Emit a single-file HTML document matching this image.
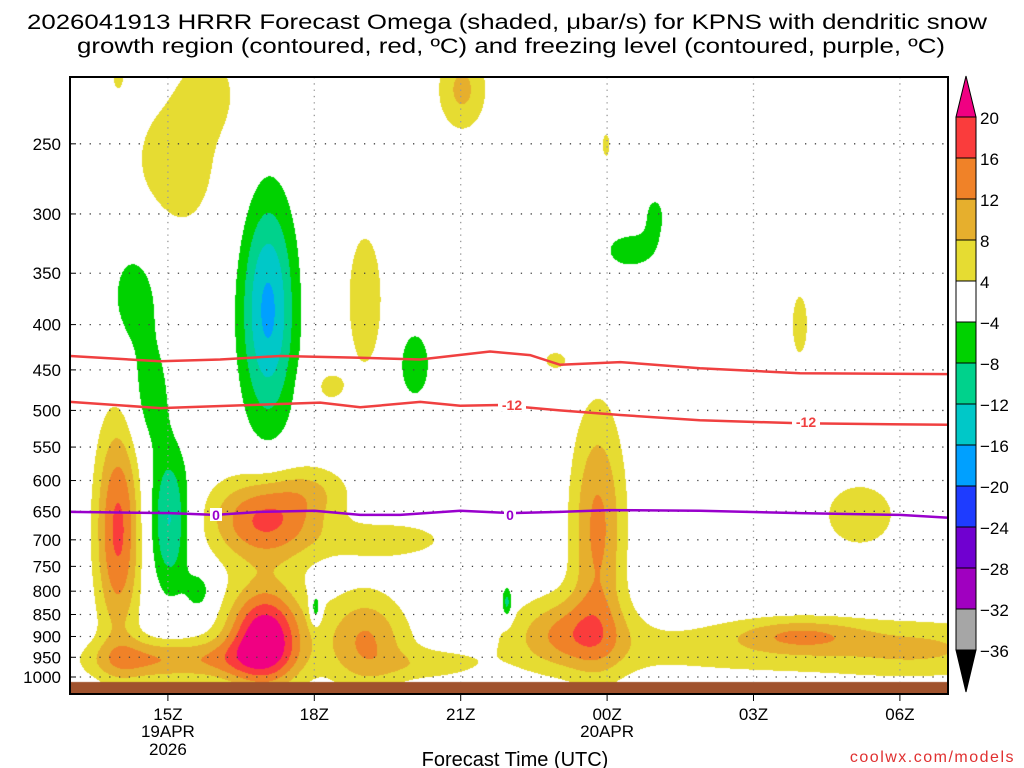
<!DOCTYPE html>
<html><head><meta charset="utf-8"><style>
html,body{margin:0;padding:0;background:#fff;}
#wrap{position:relative;width:1024px;height:768px;overflow:hidden;font-family:"Liberation Sans",sans-serif;}
canvas{position:absolute;left:0;top:0;}
svg{position:absolute;left:0;top:0;}
</style></head><body>
<div id="wrap">
<canvas id="field" width="1024" height="768"></canvas>
<svg id="svg" width="1024" height="768">
<text x="507" y="29" text-anchor="middle" font-size="21" textLength="960" lengthAdjust="spacingAndGlyphs">2026041913 HRRR Forecast Omega (shaded, μbar/s) for KPNS with dendritic snow</text>
<text x="511" y="53" text-anchor="middle" font-size="21" textLength="868" lengthAdjust="spacingAndGlyphs">growth region (contoured, red, ºC) and freezing level (contoured, purple, ºC)</text>
<text x="515" y="766" text-anchor="middle" font-size="20">Forecast Time (UTC)</text>
<text x="1015" y="762" text-anchor="end" font-size="16" fill="#e03030" letter-spacing="1.5">coolwx.com/models</text>
</svg>
</div>
<script>
// ---- data ----
const pressureTicks=[250,300,350,400,450,500,550,600,650,700,750,800,850,900,950,1000];
const timeTickHours=[2,5,8,11,14,17];
const timeTickLabels=["15Z","18Z","21Z","00Z","03Z","06Z"];
const dateLabels=[["19APR","2026"],null,null,["20APR"],null,null];
const levels=[-36,-32,-28,-24,-20,-16,-12,-8,-4,4,8,12,16,20];
const levelColors=["#000000","#a6a6a6","#a000c0","#7000d0","#1e3cff","#00a0ff","#00c8c8","#00d28c","#00d200","#ffffff","#e6dc32","#e6af2d","#f08228","#fa3c3c","#f00082"];
// omega blobs: hour, pressure(hPa), peak, sigmaHours, sigmaLogP
const blobHours=[0.98,1.33,3.99,3.0,3.99,6.55,5.01,6.04,7.37,10.81,10.2,14.95,14.95,2.15,2.87,8.03,10.98,14.95,16.18,9.93,6.04,5.32,0.98,17.5,1.33,1.64,2.04,2.66,4.05,7.06,11.47,11.98,5.03,8.95];
const blobPressure=[682,957,900,957,665,700,615,908,969,680,890,930,897,265,217,217,251,400,656,439,375,470,210,930,370,486,665,800,385,444,330,301,836,825];
const blobPeak=[17,10,24,9,17,6,5,12,5,13,11,6,8,6,4.5,9,5,5.5,6,5,7,5,5,4,-6,-6,-13,-6,-17,-7,-6,-5,-11,-11];
const blobSigH=[0.33,0.8,0.55,0.9,0.8,1.0,0.6,0.6,0.8,0.4,0.8,4.0,0.9,0.8,0.45,0.37,0.1,0.18,0.7,0.25,0.3,0.3,0.1,1.2,0.45,0.3,0.3,0.2,0.4,0.25,0.45,0.2,0.08,0.08];
const blobSigP=[0.20,0.04,0.09,0.04,0.08,0.04,0.05,0.09,0.03,0.22,0.07,0.06,0.03,0.16,0.08,0.08,0.04,0.09,0.08,0.026,0.15,0.04,0.03,0.05,0.13,0.10,0.13,0.04,0.21,0.07,0.04,0.05,0.03,0.03];
// temperature contours
const dgzUpperHours=[0,1.84,3.07,4.3,5.94,7.17,8.6,9.42,10.03,11.27,12.9,14.95,18];
const dgzUpperP=[434,440,438,434,436,438,429,433,444,441,448,454,455];
const dgzLowerHours=[0,1.84,3.69,5.12,5.94,7.17,7.99,8.8,10.03,11.27,12.9,14.95,18];
const dgzLowerP=[489,497,493,490,496,489,494,493,500,506,513,517,519];
const frzHours=[0,2.04,2.97,3.88,5,5.94,6.76,7.99,9.01,10.03,11.06,12.9,14.95,17,18];
const frzP=[651,653,656,651,649,656,656,649,653,651,648,649,653,656,661];

// ---- axes ----
const X0=70,X1=948,Y0=77,Y1=694;
const xs=h=>70.3+h*48.8;
const ys=p=>677-384.6*Math.log(1000/p);
const svg=document.getElementById('svg');
const NS='http://www.w3.org/2000/svg';
function mk(tag,attrs,parent){const e=document.createElementNS(NS,tag);for(const k in attrs)e.setAttribute(k,attrs[k]);(parent||svg).appendChild(e);return e;}

// ---- shading ----
const cv=document.getElementById('field');const ctx=cv.getContext('2d');
const W=X1-X0,H=Y1-Y0;const img=ctx.createImageData(W,H);
const rgb=levelColors.map(c=>[parseInt(c.substr(1,2),16),parseInt(c.substr(3,2),16),parseInt(c.substr(5,2),16)]);
const bx=blobHours.map(xs),by=blobPressure.map(ys);
const sx=blobSigH.map(s=>s*48.8),sy=blobSigP.map(s=>s*384.6);
for(let j=0;j<H;j++){const y=Y0+j+0.5;for(let i=0;i<W;i++){const x=X0+i+0.5;let v=0;
 for(let k=0;k<bx.length;k++){const dx=(x-bx[k])/sx[k],dy=(y-by[k])/sy[k];const r=dx*dx+dy*dy;if(r<30)v+=blobPeak[k]*Math.exp(-0.5*r);}
 let idx=0;while(idx<levels.length&&v>=levels[idx])idx++;
 const c=rgb[idx];const o=(j*W+i)*4;img.data[o]=c[0];img.data[o+1]=c[1];img.data[o+2]=c[2];img.data[o+3]=255;}}
ctx.putImageData(img,X0,Y0);
ctx.fillStyle='#a0522d';ctx.fillRect(X0,682,W,Y1-682);

// grid
pressureTicks.forEach(p=>{const y=ys(p);
 const g=mk('line',{x1:X0,x2:X1,y1:y,y2:y,stroke:'#444','stroke-width':1.3,'stroke-dasharray':'1.3 8.5'});
 
 mk('line',{x1:X0,x2:X0+6,y1:y,y2:y,stroke:'#000','stroke-width':1});
 const lb=mk('text',{x:61,y:y+6,'text-anchor':'end','font-size':17});lb.textContent=p;
 });
timeTickHours.forEach((h,i)=>{const x=xs(h);
 const g=mk('line',{x1:x,x2:x,y1:Y0,y2:682,stroke:'#999','stroke-width':1.3,'stroke-dasharray':'1.3 5'});
 
 mk('line',{x1:x,x2:x,y1:Y1,y2:Y1+7,stroke:'#000','stroke-width':1});
 const lb=mk('text',{x:x,y:720,'text-anchor':'middle','font-size':17});lb.textContent=timeTickLabels[i];
 
 if(dateLabels[i])dateLabels[i].forEach((s,k)=>{const d=mk('text',{x:x,y:737+k*18,'text-anchor':'middle','font-size':17});d.textContent=s;
  });});

function line(hs,ps,color,name){const d=hs.map((h,i)=>(i?'L':'M')+xs(h).toFixed(1)+' '+ys(ps[i]).toFixed(1)).join(' ');
 const e=mk('path',{d:d,fill:'none',stroke:color,'stroke-width':2.5,'stroke-linejoin':'round'});
 }
line(dgzUpperHours,dgzUpperP,'#f04040','dgz-upper-contour');
line(dgzLowerHours,dgzLowerP,'#f04040','dgz-lower-contour');
line(frzHours,frzP,'#9900cc','freezing-level-contour');
function clabel(x,y,txt,color,name,bg){mk('rect',{x:x-txt.length*4-2,y:y-7,width:txt.length*8+4,height:13,fill:bg});
 const t=mk('text',{x:x,y:y+5,'text-anchor':'middle','font-size':14,'font-weight':'bold',fill:color});t.textContent=txt;
 }
clabel(512,405,'-12','#f04040','contour-label-minus12','#fff');
clabel(806,422,'-12','#f04040','contour-label-minus12','#fff');
clabel(216,515,'0','#9900cc','contour-label-0','#fff');
clabel(510,515,'0','#9900cc','contour-label-0','#fff');

const fr=mk('rect',{x:X0,y:Y0,width:W,height:Y1-Y0,fill:'none',stroke:'#000','stroke-width':2});


// colorbar
const cbx=956,cbw=20,cbTop=117,cbStep=41;
const cb=mk('g',{});
for(let i=0;i<13;i++){const lvl=levels.length-1-i;
 mk('rect',{x:cbx,y:cbTop+i*cbStep,width:cbw,height:cbStep,fill:levelColors[lvl],stroke:'#000','stroke-width':1},cb);}
mk('polygon',{points:`${cbx},${cbTop} ${cbx+cbw},${cbTop} ${cbx+cbw/2},76`,fill:levelColors[14],stroke:'#000'},cb);
mk('polygon',{points:`${cbx},${cbTop+13*cbStep} ${cbx+cbw},${cbTop+13*cbStep} ${cbx+cbw/2},692`,fill:'#000',stroke:'#000'},cb);
for(let i=0;i<14;i++){const v=levels[levels.length-1-i];const t=mk('text',{x:980,y:cbTop+i*cbStep+7,'font-size':17},cb);
 t.textContent=v<0?'\u2212'+(-v):String(v);}
</script>
</body></html>
